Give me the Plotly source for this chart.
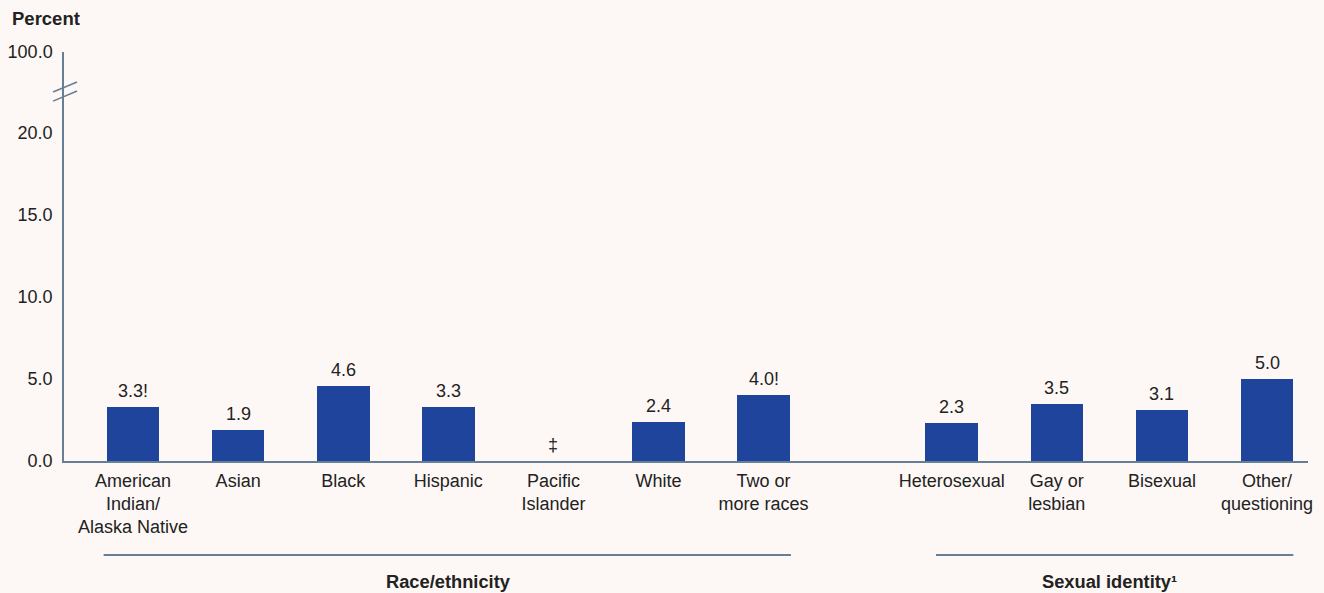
import plotly.graph_objects as go

race_categories = ["American<br>Indian/<br>Alaska Native", "Asian", "Black", "Hispanic",
                   "Pacific<br>Islander", "White", "Two or<br>more races"]
race_values = [3.3, 1.9, 4.6, 3.3, None, 2.4, 4.0]
race_labels = ["3.3!", "1.9", "4.6", "3.3", "‡", "2.4", "4.0!"]
sexual_categories = ["Heterosexual", "Gay or<br>lesbian", "Bisexual", "Other/<br>questioning"]
sexual_values = [2.3, 3.5, 3.1, 5.0]
sexual_labels = ["2.3", "3.5", "3.1", "5.0"]
y_tick_values = [0, 5, 10, 15, 20]
y_tick_labels = ["0.0", "5.0", "10.0", "15.0", "20.0"]
y_break_label = "100.0"
group_titles = ["Race/ethnicity", "Sexual identity¹"]
y_axis_title = "Percent"

BAR = "#1F449C"
BG = "#FDF8F5"
AXIS = "#667F94"
TXT = "#222222"
FONT = "Liberation Sans, Arial, sans-serif"

gap = 1.79
race_x = list(range(len(race_categories)))
sexual_x = [race_x[-1] + gap + i for i in range(len(sexual_categories))]
all_x = race_x + sexual_x
all_cats = race_categories + sexual_categories
all_vals = race_values + sexual_values
all_labels = race_labels + sexual_labels

y_top = 24.95
y_break_pos = 24.94

fig = go.Figure()
fig.add_trace(go.Bar(x=all_x, y=all_vals, width=0.5, marker_color=BAR,
                     marker_line_width=0, hoverinfo="skip"))

annotations = []
for x, v, t in zip(all_x, all_vals, all_labels):
    annotations.append(dict(x=x, y=v if v is not None else 0, xref="x", yref="y",
                            text=t, showarrow=False, yanchor="bottom", yshift=4,
                            font=dict(size=18, color=TXT, family=FONT)))

annotations.append(dict(x=-0.0434, y=1.083, xref="paper", yref="paper", text="<b>" + y_axis_title + "</b>",
                        showarrow=False, xanchor="left", yanchor="middle",
                        font=dict(size=18.5, color=TXT, family=FONT)))

group_positions = [race_x, sexual_x]
group_extents = [(-0.28, 0.26), (-0.15, 0.25)]
shapes = []
for title, xs, (lo, hi) in zip(group_titles, group_positions, group_extents):
    cx = sum(xs) / len(xs)
    shapes.append(dict(type="line", xref="x", yref="paper", x0=xs[0] + lo, x1=xs[-1] + hi,
                       y0=-0.2298, y1=-0.2298, line=dict(color=AXIS, width=2)))
    annotations.append(dict(x=cx, y=-0.2934, xref="x", yref="paper", text="<b>" + title + "</b>",
                            showarrow=False, xanchor="center", yanchor="middle",
                            font=dict(size=18.3, color=TXT, family=FONT)))

# axis break marks
for y0, y1 in [(0.9022, 0.9267), (0.880, 0.9046)]:
    shapes.append(dict(type="line", xref="paper", yref="paper", x0=-0.0088, x1=0.0105,
                       y0=y0, y1=y1, line=dict(color=AXIS, width=1.5)))

fig.update_layout(
    width=1324, height=593,
    margin=dict(l=64, r=16, t=52, b=132, autoexpand=False),
    paper_bgcolor=BG, plot_bgcolor=BG,
    showlegend=False,
    font=dict(family=FONT, size=18, color=TXT),
    annotations=annotations,
    shapes=shapes,
    bargap=0,
)
fig.update_xaxes(range=[-0.657, sexual_x[-1] + 0.39], tickvals=all_x, ticktext=all_cats,
                 showline=True, linecolor=AXIS, linewidth=2, showgrid=False, zeroline=False,
                 automargin=False,
                 ticks="", ticklabelstandoff=2, tickfont=dict(size=18, color=TXT, family=FONT))
fig.update_yaxes(range=[0, y_top], tickvals=y_tick_values + [y_break_pos],
                 ticktext=y_tick_labels + [y_break_label],
                 showline=True, linecolor=AXIS, linewidth=1.5, showgrid=False, zeroline=False,
                 automargin=False,
                 ticks="", ticklabelstandoff=6, tickfont=dict(size=18, color=TXT, family=FONT))

fig.write_html("out.html")
